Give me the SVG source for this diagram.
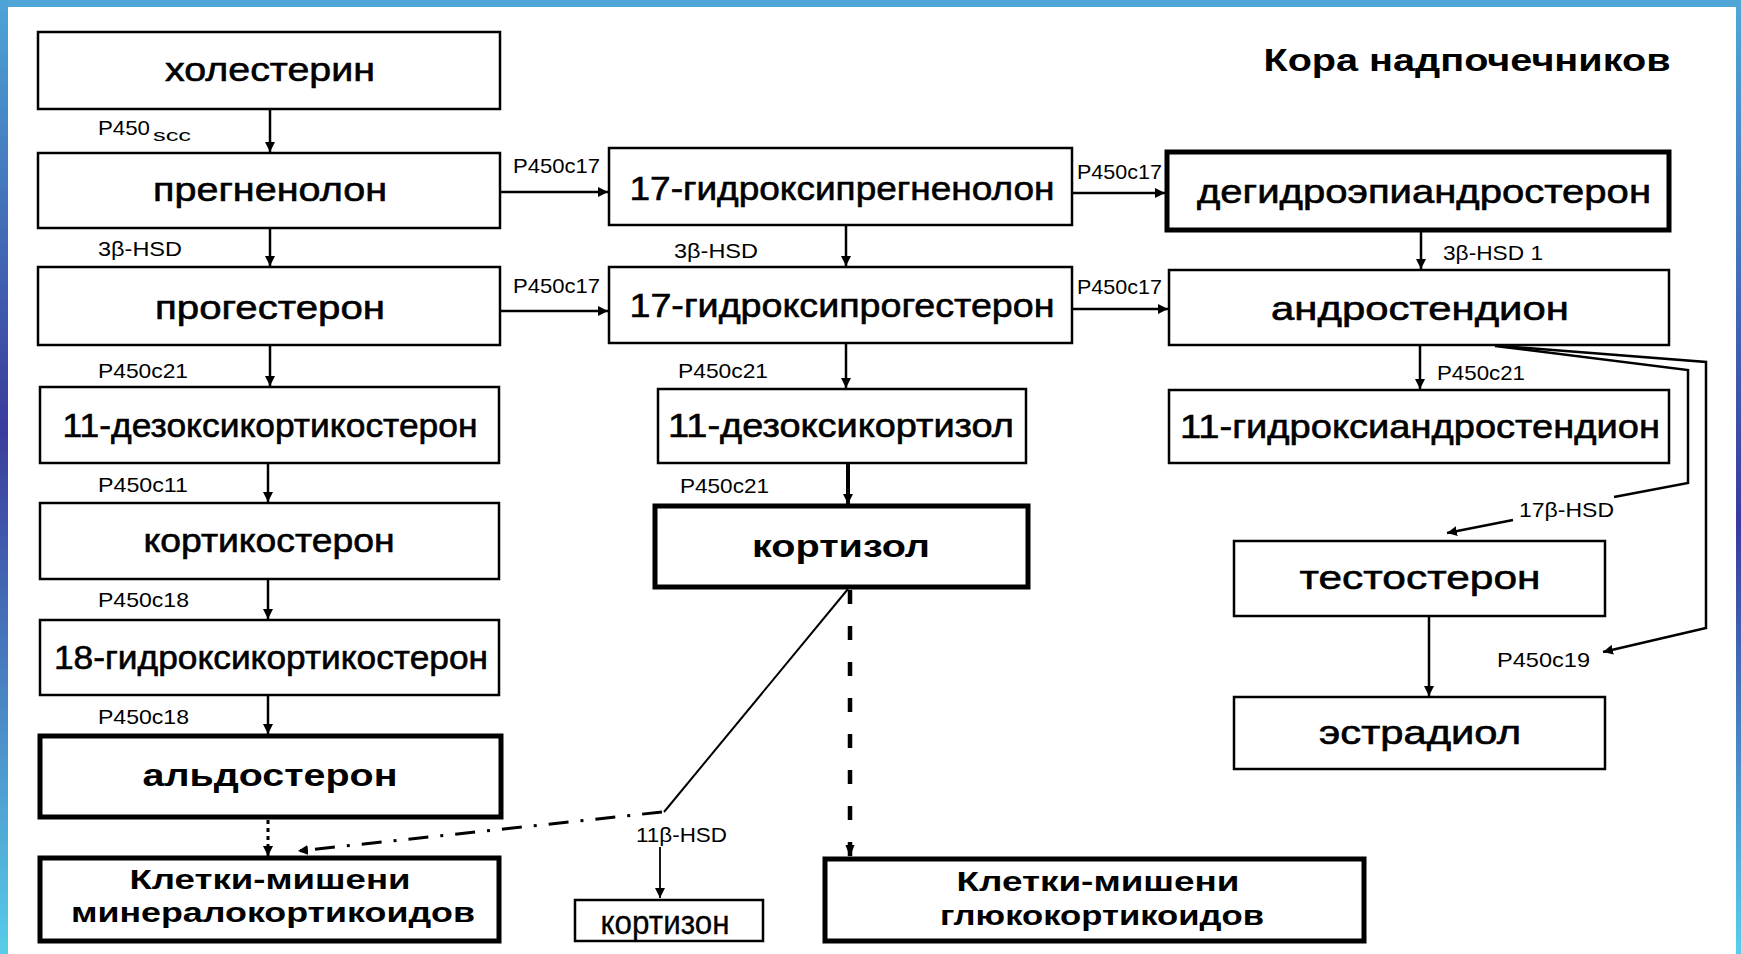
<svg xmlns="http://www.w3.org/2000/svg" width="1741" height="954" viewBox="0 0 1741 954">
<defs>
<linearGradient id="gl" x1="0" y1="0" x2="0" y2="1">
<stop offset="0" stop-color="#4ca5d6"/>
<stop offset="0.45" stop-color="#3a3b9c"/>
<stop offset="1" stop-color="#57cde9"/>
</linearGradient>
<linearGradient id="gr" x1="0" y1="0" x2="0" y2="1">
<stop offset="0" stop-color="#4fa8d7"/>
<stop offset="0.55" stop-color="#3a3a9c"/>
<stop offset="1" stop-color="#58cfea"/>
</linearGradient>
<marker id="arr" markerUnits="userSpaceOnUse" markerWidth="10" markerHeight="10" refX="10" refY="5" orient="auto">
<path d="M0,0 L10,5 L0,10 z" fill="#000"/>
</marker>
<marker id="arrs" markerUnits="userSpaceOnUse" markerWidth="12" markerHeight="10" refX="12" refY="5" orient="auto">
<path d="M0,0.5 L12,5 L0,9.5 z" fill="#000"/>
</marker>
</defs>
<style>
.box{fill:#fff;stroke:#000;stroke-width:2.5}
.bold{fill:#fff;stroke:#000;stroke-width:5}
.t{font-family:"Liberation Sans",Arial,sans-serif;font-size:34px;fill:#000;stroke:#000;stroke-width:0.6;text-anchor:middle}
.tb{font-family:"Liberation Sans",Arial,sans-serif;font-size:32px;font-weight:bold;fill:#000;text-anchor:middle}
.tk{font-family:"Liberation Sans",Arial,sans-serif;font-size:28px;font-weight:bold;fill:#000;text-anchor:middle}
.lb{font-family:"Liberation Sans",Arial,sans-serif;font-size:21px;fill:#000}
.ln{fill:none;stroke:#000;stroke-width:2.5}
</style>
<rect x="0" y="0" width="1741" height="954" fill="#fff"/>
<rect x="0" y="0" width="1741" height="7" fill="#50a6d6"/>
<rect x="0" y="0" width="8" height="954" fill="url(#gl)"/>
<rect x="1736" y="0" width="5" height="954" fill="url(#gr)"/>

<text class="tb" x="1467" y="71" font-size="26" textLength="407" lengthAdjust="spacingAndGlyphs">Кора надпочечников</text>

<g id="connectors">
<line class="ln" x1="270" y1="109" x2="270" y2="152" marker-end="url(#arr)"/>
<line class="ln" x1="270" y1="228" x2="270" y2="266" marker-end="url(#arr)"/>
<line class="ln" x1="270" y1="345" x2="270" y2="386" marker-end="url(#arr)"/>
<line class="ln" x1="268" y1="463" x2="268" y2="502" marker-end="url(#arr)"/>
<line class="ln" x1="268" y1="579" x2="268" y2="619" marker-end="url(#arr)"/>
<line class="ln" x1="268" y1="695" x2="268" y2="734" marker-end="url(#arr)"/>
<line class="ln" x1="268" y1="820" x2="268" y2="856" style="stroke-width:3;stroke-dasharray:4 4" marker-end="url(#arr)"/>
<line class="ln" x1="500" y1="192" x2="608" y2="192" marker-end="url(#arr)"/>
<line class="ln" x1="500" y1="311" x2="608" y2="311" marker-end="url(#arr)"/>
<line class="ln" x1="846" y1="225" x2="846" y2="266" marker-end="url(#arr)"/>
<line class="ln" x1="846" y1="343" x2="846" y2="388" marker-end="url(#arr)"/>
<line class="ln" x1="848" y1="463" x2="848" y2="504" style="stroke-width:4" marker-end="url(#arr)"/>
<line class="ln" x1="1072" y1="193" x2="1165" y2="193" marker-end="url(#arr)"/>
<line class="ln" x1="1072" y1="309" x2="1168" y2="309" marker-end="url(#arr)"/>
<line class="ln" x1="1421" y1="232" x2="1421" y2="269" marker-end="url(#arr)"/>
<line class="ln" x1="1420" y1="345" x2="1420" y2="389" marker-end="url(#arr)"/>
<polyline class="ln" points="1495,346 1688,370 1688,483 1614,497"/>
<line class="ln" x1="1513" y1="520" x2="1447" y2="533" marker-end="url(#arr)"/>
<polyline class="ln" points="1500,346 1706,362 1706,628 1603,652" marker-end="url(#arr)"/>
<line class="ln" x1="1429" y1="616" x2="1429" y2="696" marker-end="url(#arr)"/>
<line class="ln" x1="850" y1="590" x2="850" y2="857" style="stroke-width:4.5;stroke-dasharray:14 22" marker-end="url(#arrs)"/>
<line class="ln" x1="848" y1="589" x2="664" y2="812" style="stroke-width:2"/>
<line class="ln" x1="662" y1="812" x2="298" y2="851" style="stroke-width:3;stroke-dasharray:20 12 3 12" marker-end="url(#arr)"/>
<line class="ln" x1="660" y1="847" x2="660" y2="898" style="stroke-width:1.8" marker-end="url(#arr)"/>
</g>

<g id="labels">
<text class="lb" x="98" y="135"><tspan textLength="52" lengthAdjust="spacingAndGlyphs">P450</tspan><tspan x="153" y="141" font-size="17" textLength="38" lengthAdjust="spacingAndGlyphs">scc</tspan></text>
<text class="lb" x="98" y="256" textLength="84" lengthAdjust="spacingAndGlyphs">3β-HSD</text>
<text class="lb" x="98" y="378" textLength="90" lengthAdjust="spacingAndGlyphs">P450c21</text>
<text class="lb" x="98" y="492" textLength="90" lengthAdjust="spacingAndGlyphs">P450c11</text>
<text class="lb" x="98" y="607" textLength="91" lengthAdjust="spacingAndGlyphs">P450c18</text>
<text class="lb" x="98" y="724" textLength="91" lengthAdjust="spacingAndGlyphs">P450c18</text>
<text class="lb" x="513" y="173" textLength="87" lengthAdjust="spacingAndGlyphs">P450c17</text>
<text class="lb" x="513" y="293" textLength="87" lengthAdjust="spacingAndGlyphs">P450c17</text>
<text class="lb" x="674" y="258" textLength="84" lengthAdjust="spacingAndGlyphs">3β-HSD</text>
<text class="lb" x="678" y="378" textLength="90" lengthAdjust="spacingAndGlyphs">P450c21</text>
<text class="lb" x="680" y="493" textLength="89" lengthAdjust="spacingAndGlyphs">P450c21</text>
<text class="lb" x="1077" y="179" textLength="85" lengthAdjust="spacingAndGlyphs">P450c17</text>
<text class="lb" x="1077" y="294" textLength="85" lengthAdjust="spacingAndGlyphs">P450c17</text>
<text class="lb" x="1443" y="260" textLength="100" lengthAdjust="spacingAndGlyphs">3β-HSD 1</text>
<text class="lb" x="1437" y="380" textLength="88" lengthAdjust="spacingAndGlyphs">P450c21</text>
<text class="lb" x="1519" y="517" textLength="95" lengthAdjust="spacingAndGlyphs">17β-HSD</text>
<text class="lb" x="1497" y="667" textLength="93" lengthAdjust="spacingAndGlyphs">P450c19</text>
<text class="lb" x="636" y="842" textLength="91" lengthAdjust="spacingAndGlyphs">11β-HSD</text>
</g>

<g id="n-cholesterol"><rect class="box" x="38" y="32" width="462" height="77"/><text class="t" x="270" y="81" textLength="210" lengthAdjust="spacingAndGlyphs">холестерин</text></g>
<g id="n-pregnenolone"><rect class="box" x="38" y="153" width="462" height="75"/><text class="t" x="270" y="201" textLength="234" lengthAdjust="spacingAndGlyphs">прегненолон</text></g>
<g id="n-progesterone"><rect class="box" x="38" y="267" width="462" height="78"/><text class="t" x="270" y="319" textLength="230" lengthAdjust="spacingAndGlyphs">прогестерон</text></g>
<g id="n-doc"><rect class="box" x="40" y="387" width="459" height="76"/><text class="t" x="270" y="437" textLength="415" lengthAdjust="spacingAndGlyphs">11-дезоксикортикостерон</text></g>
<g id="n-corticosterone"><rect class="box" x="40" y="503" width="459" height="76"/><text class="t" x="269" y="552" textLength="251" lengthAdjust="spacingAndGlyphs">кортикостерон</text></g>
<g id="n-18oh"><rect class="box" x="40" y="620" width="459" height="75"/><text class="t" x="271" y="669" textLength="434" lengthAdjust="spacingAndGlyphs">18-гидроксикортикостерон</text></g>
<g id="n-aldosterone"><rect class="bold" x="40" y="736" width="461" height="81"/><text class="tb" x="270" y="786" textLength="255" lengthAdjust="spacingAndGlyphs">альдостерон</text></g>
<g id="n-mineral"><rect class="bold" x="40" y="858" width="459" height="83"/><text class="tk" x="270" y="889" textLength="281" lengthAdjust="spacingAndGlyphs">Клетки-мишени</text><text class="tk" x="273" y="922" textLength="404" lengthAdjust="spacingAndGlyphs">минералокортикоидов</text></g>
<g id="n-17ohpreg"><rect class="box" x="609" y="148" width="463" height="77"/><text class="t" x="842" y="200" textLength="425" lengthAdjust="spacingAndGlyphs">17-гидроксипрегненолон</text></g>
<g id="n-17ohprog"><rect class="box" x="609" y="267" width="463" height="76"/><text class="t" x="842" y="317" textLength="425" lengthAdjust="spacingAndGlyphs">17-гидроксипрогестерон</text></g>
<g id="n-11deoxycortisol"><rect class="box" x="658" y="389" width="368" height="74"/><text class="t" x="841" y="437" textLength="346" lengthAdjust="spacingAndGlyphs">11-дезоксикортизол</text></g>
<g id="n-cortisol"><rect class="bold" x="655" y="506" width="373" height="81"/><text class="tb" x="841" y="557" textLength="178" lengthAdjust="spacingAndGlyphs">кортизол</text></g>
<g id="n-cortisone"><rect class="box" x="575" y="900" width="188" height="41"/><text class="t" x="665" y="934" font-size="24" style="stroke-width:0.3" textLength="129" lengthAdjust="spacingAndGlyphs">кортизон</text></g>
<g id="n-gluco"><rect class="bold" x="825" y="859" width="539" height="82"/><text class="tk" x="1098" y="891" textLength="283" lengthAdjust="spacingAndGlyphs">Клетки-мишени</text><text class="tk" x="1102" y="925" textLength="324" lengthAdjust="spacingAndGlyphs">глюкокортикоидов</text></g>
<g id="n-dhea"><rect class="bold" x="1167" y="152" width="502" height="78"/><text class="t" x="1424" y="203" textLength="454" lengthAdjust="spacingAndGlyphs">дегидроэпиандростерон</text></g>
<g id="n-androstenedione"><rect class="box" x="1169" y="270" width="500" height="75"/><text class="t" x="1420" y="320" textLength="298" lengthAdjust="spacingAndGlyphs">андростендион</text></g>
<g id="n-11ohandro"><rect class="box" x="1169" y="390" width="500" height="73"/><text class="t" x="1420" y="438" textLength="480" lengthAdjust="spacingAndGlyphs">11-гидроксиандростендион</text></g>
<g id="n-testosterone"><rect class="box" x="1234" y="541" width="371" height="75"/><text class="t" x="1420" y="589" textLength="241" lengthAdjust="spacingAndGlyphs">тестостерон</text></g>
<g id="n-estradiol"><rect class="box" x="1234" y="697" width="371" height="72"/><text class="t" x="1420" y="744" textLength="202" lengthAdjust="spacingAndGlyphs">эстрадиол</text></g>
</svg>
